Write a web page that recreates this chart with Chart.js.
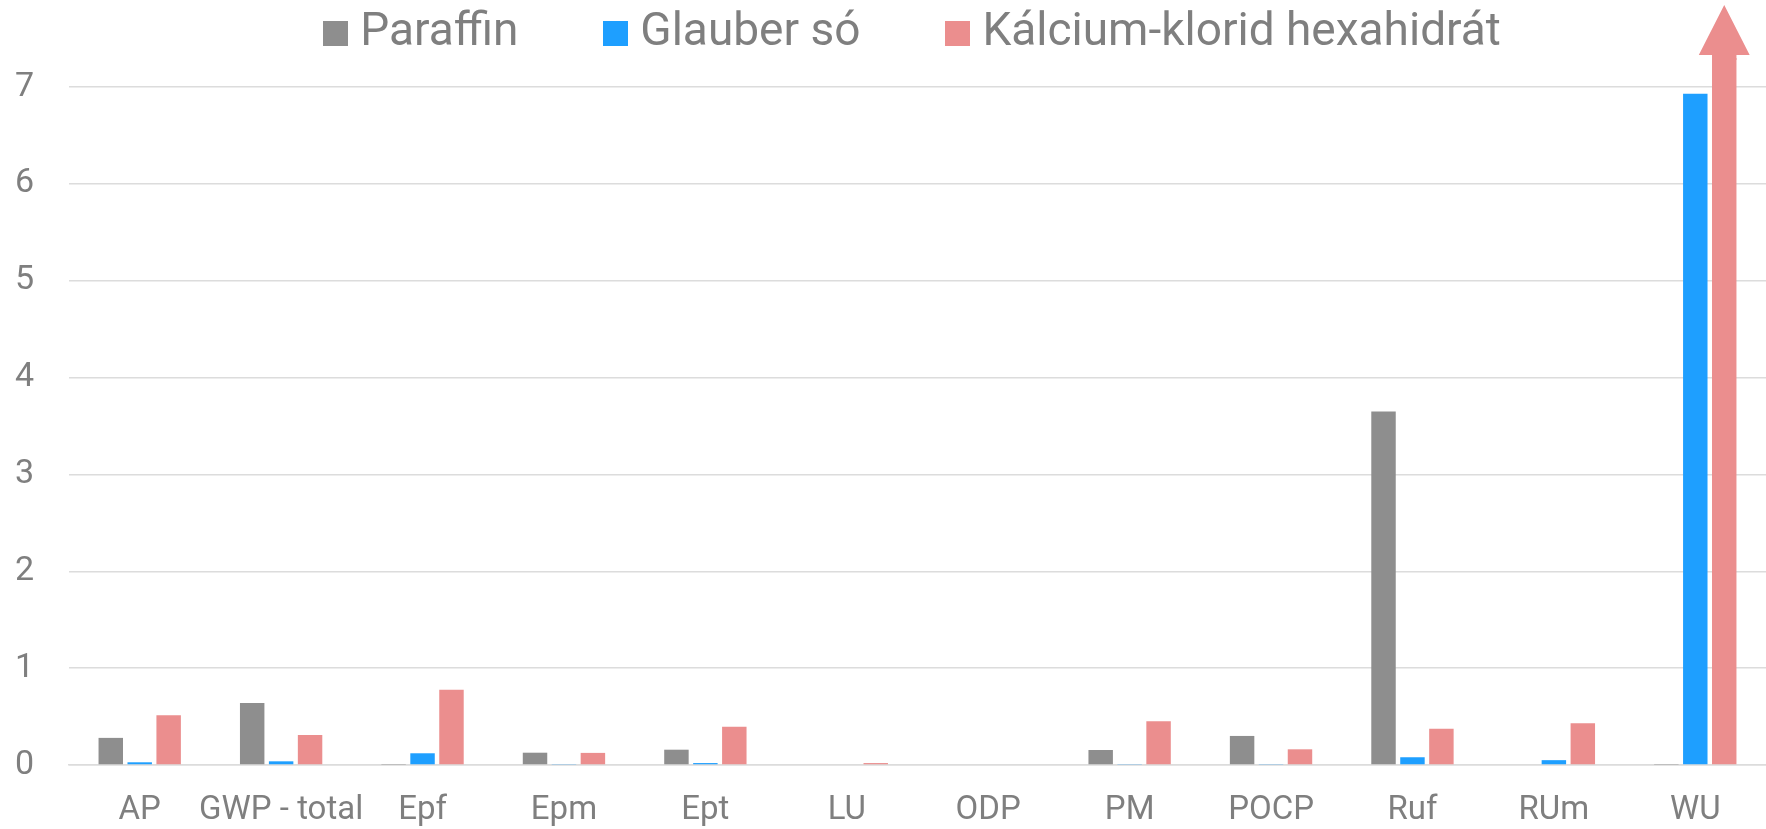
<!DOCTYPE html>
<html>
<head>
<meta charset="utf-8">
<script src="https://cdn.jsdelivr.net/npm/chart.js@4.4.1/dist/chart.umd.min.js"></script>
<style>
  html, body { margin: 0; padding: 0; background: #ffffff; }
  #wrap { width: 1766px; height: 829px; }
</style>
</head>
<body>
<div id="wrap"><canvas id="myChart" width="1766" height="829"></canvas></div>
<script>
// data
var categories = ["AP", "GWP - total", "Epf", "Epm", "Ept", "LU", "ODP", "PM", "POCP", "Ruf", "RUm", "WU"];
var seriesNames = ["Paraffin", "Glauber só", "Kálcium-klorid hexahidrát"];
var paraffin = [0.28, 0.64, 0.004, 0.127, 0.158, 0, 0, 0.155, 0.30, 3.65, 0, 0.004];
var glauber = [0.028, 0.038, 0.121, 0.01, 0.02, 0, 0, 0.01, 0.01, 0.08, 0.05, 6.93];
var kalcium = [0.514, 0.31, 0.776, 0.125, 0.396, 0.02, 0, 0.452, 0.162, 0.375, 0.43, 9.5];
var yTicks = [0, 1, 2, 3, 4, 5, 6, 7];
var barColors = ["#8e8e8e", "#1e9fff", "#eb8e8e"];

var textColor = "#7f7f7f";
var gridColor = "#dcdcdc";

// square legend markers (drawn as point style images so the text sits close)
var legendBoxes = barColors.map(function (c) {
  var cv = document.createElement("canvas");
  cv.width = 25;
  cv.height = 25;
  var g = cv.getContext("2d");
  g.fillStyle = c;
  g.fillRect(0, 0, 25, 25);
  return cv;
});

// arrow on top of the WU bar that goes off the axis
var arrowPlugin = {
  id: "arrowUp",
  afterDraw: function (chart) {
    var meta = chart.getDatasetMeta(2);
    var bar = meta.data[meta.data.length - 1];
    var ctx = chart.ctx;
    var half = bar.width / 2;
    var baseY = chart.chartArea.top - 3;
    var tipY = 5;
    ctx.save();
    ctx.fillStyle = barColors[2];
    ctx.beginPath();
    ctx.moveTo(bar.x - half, chart.chartArea.top + 2);
    ctx.lineTo(bar.x - half, baseY);
    ctx.lineTo(bar.x - half * 2.08, baseY);
    ctx.lineTo(bar.x, tipY);
    ctx.lineTo(bar.x + half * 2.08, baseY);
    ctx.lineTo(bar.x + half, baseY);
    ctx.lineTo(bar.x + half, chart.chartArea.top + 2);
    ctx.closePath();
    ctx.fill();
    ctx.restore();
  }
};

var values = [paraffin, glauber, kalcium];

new Chart("myChart", {
  type: "bar",
  data: {
    labels: categories,
    datasets: values.map(function (v, i) {
      return {
        label: seriesNames[i],
        data: v,
        backgroundColor: barColors[i],
        borderWidth: 0,
        categoryPercentage: 0.614,
        barPercentage: 0.845,
        clip: 0
      };
    })
  },
  options: {
    responsive: false,
    animation: false,
    devicePixelRatio: 1,
    layout: { padding: { top: -86, right: -5, left: 0, bottom: 0 } },
    plugins: {
      legend: {
        display: true,
        position: "top",
        fullSize: false,
        maxHeight: 144,
        labels: {
          color: textColor,
          font: { family: "Roboto", size: 46 },
          usePointStyle: true,
          boxWidth: 3,
          boxHeight: 25,
          padding: 96,
          generateLabels: function (chart) {
            var items = Chart.defaults.plugins.legend.labels.generateLabels(chart);
            items.forEach(function (it, i) { it.pointStyle = legendBoxes[i]; });
            return items;
          }
        }
      },
      tooltip: { enabled: false }
    },
    scales: {
      x: {
        grid: { display: false, drawTicks: false },
        border: { display: true, color: gridColor, width: 1.5 },
        ticks: {
          color: textColor,
          font: { family: "Roboto", size: 33 },
          padding: 26,
          maxRotation: 0,
          autoSkip: false
        },
        afterFit: function (scale) { scale.height = 64; }
      },
      y: {
        min: 0,
        max: 7.3,
        grid: { color: gridColor, lineWidth: 1.5, drawTicks: false },
        border: { display: false },
        ticks: {
          stepSize: 1,
          includeBounds: false,
          color: textColor,
          font: { family: "Roboto", size: 34 },
          padding: 35
        },
        afterBuildTicks: function (scale) {
          scale.ticks = yTicks.map(function (t) { return { value: t }; });
        },
        afterFit: function (scale) { scale.width = 69; }
      }
    }
  },
  plugins: [arrowPlugin]
});
</script>
</body>
</html>
